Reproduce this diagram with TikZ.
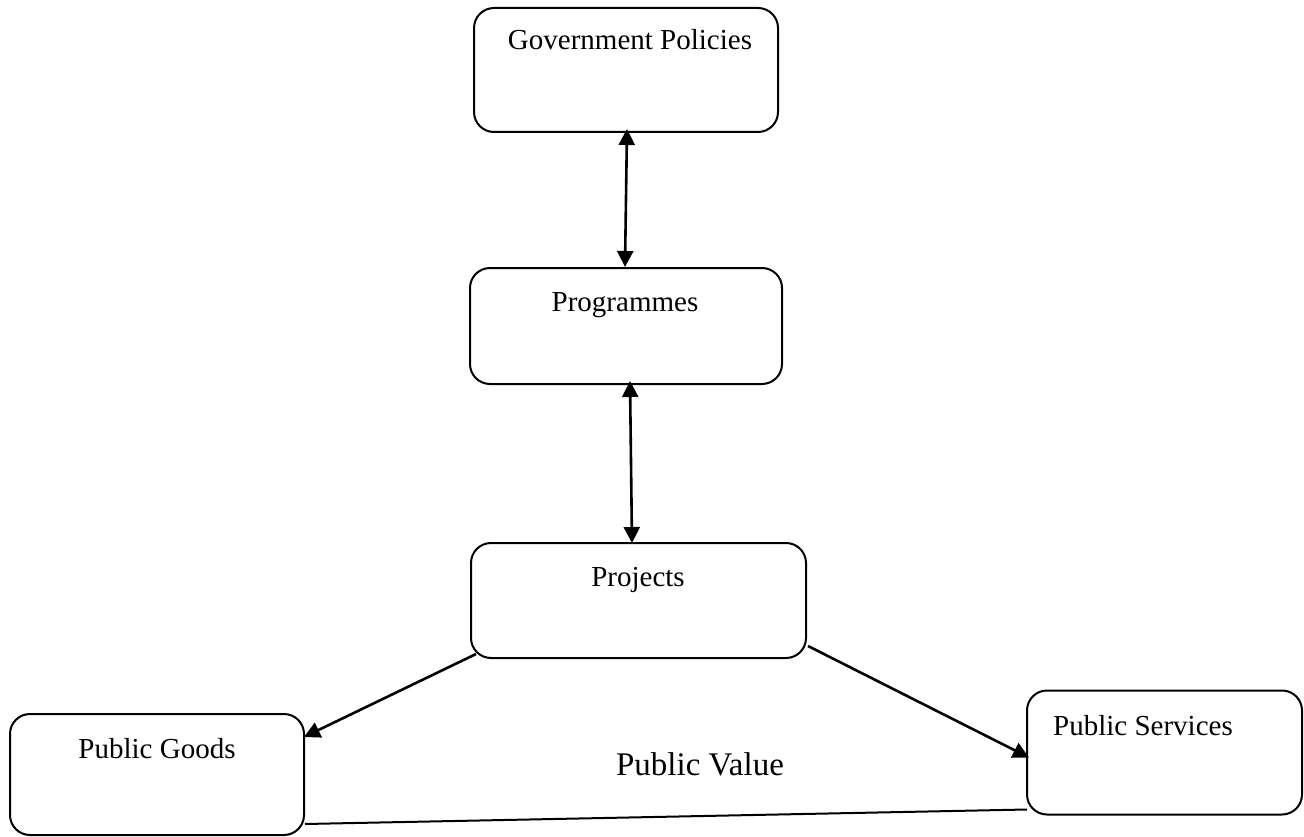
\documentclass[tikz,border=0pt]{standalone}
\usepackage{fontspec}
\setmainfont{Liberation Serif}
\usetikzlibrary{arrows.meta,calc}
\begin{document}
\begin{tikzpicture}[x=1pt,y=-1pt,
  box/.style={draw=black,line width=2pt,rounded corners=20pt,rectangle,inner sep=0pt},
  lbl/.style={anchor=base,inner sep=0pt,font=\fontsize{29}{32}\selectfont},
  tip/.style={Triangle[length=16pt,width=16pt]},
  link/.style={line width=2.6pt,-{Triangle[length=16pt,width=16pt]}},
  twoway/.style={line width=2.6pt,{Triangle[length=16pt,width=16pt]}-{Triangle[length=16pt,width=16pt]}}]
  \useasboundingbox (0,0) rectangle (1304,837);
  % boxes
  \node[box,minimum width=304pt,minimum height=124pt] (gov)   at (626,70) {};
  \node[box,minimum width=312pt,minimum height=116pt] (prog)  at (626,326) {};
  \node[box,minimum width=335pt,minimum height=115pt] (proj)  at (638.5,600.5) {};
  \node[box,minimum width=294pt,minimum height=121pt] (goods) at (157,774.5) {};
  \node[box,minimum width=275pt,minimum height=124pt] (serv)  at (1164.5,752.5) {};
  % box labels
  \node[lbl] (govt)   at (630,50)  {Government Policies};
  \node[lbl] (progt)  at (625,311) {Programmes};
  \node[lbl] (projt)  at (638,586) {Projects};
  \node[lbl] (goodst) at (157,758) {Public Goods};
  \node[lbl] (servt)  at (1143,735) {Public Services};
  \node[anchor=base,inner sep=0pt,font=\fontsize{33}{36}\selectfont] (value) at (700,775) {Public Value};
  % connectors
  \draw[twoway] ($(gov.south)+(1,-4)$) -- ($(prog.north)+(-1,0)$);
  \draw[twoway] ($(prog.south)+(4,-4)$) -- ($(proj.north)+(-6.5,1)$);
  \draw[link] ($(proj.south west)+(6,-5)$) -- ($(goods.north east)+(-1,24)$);
  \draw[link] ($(proj.south east)+(1,-13)$) -- ($(serv.west)+(3,5)$);
  \draw[line width=2pt] ($(goods.south east)+(0,-12)$) -- ($(serv.south west)+(1,-6)$);
\end{tikzpicture}
\end{document}
